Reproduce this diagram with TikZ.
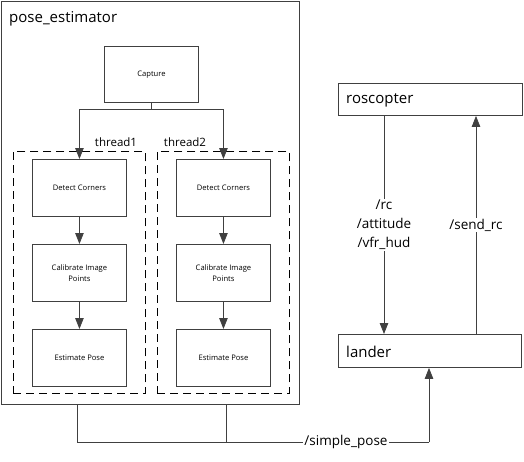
\documentclass[tikz,border=0pt]{standalone}
\usepackage{fontspec}
\setmainfont{Open Sans}
\usetikzlibrary{arrows.meta}
\definecolor{edge}{HTML}{404040}
\begin{document}
\begin{tikzpicture}[x=1pt,y=-1pt,
  box/.style={draw=edge,line width=0.9pt,inner sep=0pt},
  smallbox/.style={box,minimum width=94pt,minimum height=57pt,font=\fontsize{7.6}{11.5}\selectfont,align=center},
  thr/.style={draw=black,line width=0.8pt,dash pattern=on 8pt off 5pt},
  conn/.style={draw=edge,line width=0.8pt},
  arr/.style={conn,-{Triangle[length=11pt,width=8.5pt]}},
  lbl/.style={font=\fontsize{13.5}{19}\selectfont,fill=white,inner sep=1pt,align=center}]
\useasboundingbox (0,0) rectangle (524,461);
% outer
\node[box,minimum width=298pt,minimum height=403pt,anchor=north west] (pe) at (1,1) {};
\node[anchor=west,font=\fontsize{15}{17}\selectfont,inner sep=0pt] (pet) at (9,19) {pose\_estimator};
% dashed thread boxes
\node[thr,minimum width=132pt,minimum height=242pt,anchor=north west,inner sep=0pt] (t1) at (13,151) {};
\node[thr,minimum width=132pt,minimum height=242pt,anchor=north west,inner sep=0pt] (t2) at (157,151) {};
\node[font=\fontsize{11.5}{13}\selectfont,inner sep=1pt] (t1l) at (116,142) {thread1};
\node[font=\fontsize{11.5}{13}\selectfont,inner sep=1pt] (t2l) at (185,142) {thread2};
% capture
\node[smallbox,anchor=north west,minimum height=56pt] (cap) at (104,46) {Capture};
% column 1
\node[smallbox,anchor=north west] (d1) at (32,159) {Detect Corners};
\node[smallbox,anchor=north west] (c1) at (32,244) {Calibrate Image\\Points};
\node[smallbox,anchor=north west] (e1) at (32,329) {Estimate Pose};
% column 2
\node[smallbox,anchor=north west] (d2) at (176,159) {Detect Corners};
\node[smallbox,anchor=north west] (c2) at (176,244) {Calibrate Image\\Points};
\node[smallbox,anchor=north west] (e2) at (176,329) {Estimate Pose};
% capture fan out
\coordinate (j) at (151,109);
\draw[conn] (cap.south -| j) -- (j);
\draw[arr] (j) -| (d1.north);
\draw[arr] (j) -| (d2.north);
\draw[arr] (d1) -- (c1);
\draw[arr] (c1) -- (e1);
\draw[arr] (d2) -- (c2);
\draw[arr] (c2) -- (e2);
% right side
\node[box,minimum width=184pt,minimum height=32pt,anchor=north west] (ros) at (338,83) {};
\node[anchor=west,font=\fontsize{15}{17}\selectfont,inner sep=0pt] (rost) at (346,100) {roscopter};
\node[box,minimum width=183pt,minimum height=33pt,anchor=north west] (lan) at (338,334) {};
\node[anchor=west,font=\fontsize{15}{17}\selectfont,inner sep=0pt] (lant) at (346,352) {lander};
\coordinate (rx) at (384,0);
\coordinate (sx) at (476,0);
\draw[arr] (ros.south -| rx) -- node[lbl,pos=0.5]{/rc\\/attitude\\/vfr\_hud} (lan.north -| rx);
\draw[arr] (lan.north -| sx) -- node[lbl,pos=0.5]{/send\_rc} (ros.south -| sx);
% simple pose
\coordinate (b1) at (77,442);
\coordinate (b2) at (226,442);
\coordinate (b3) at (429,442);
\draw[conn] (pe.south -| b1) -- (b1) -- (b3);
\draw[conn] (pe.south -| b2) -- (b2);
\node[lbl] (sp) at (346,442) {/simple\_pose};
\draw[arr] (b3) -- (lan.south -| b3);
\end{tikzpicture}
\end{document}
